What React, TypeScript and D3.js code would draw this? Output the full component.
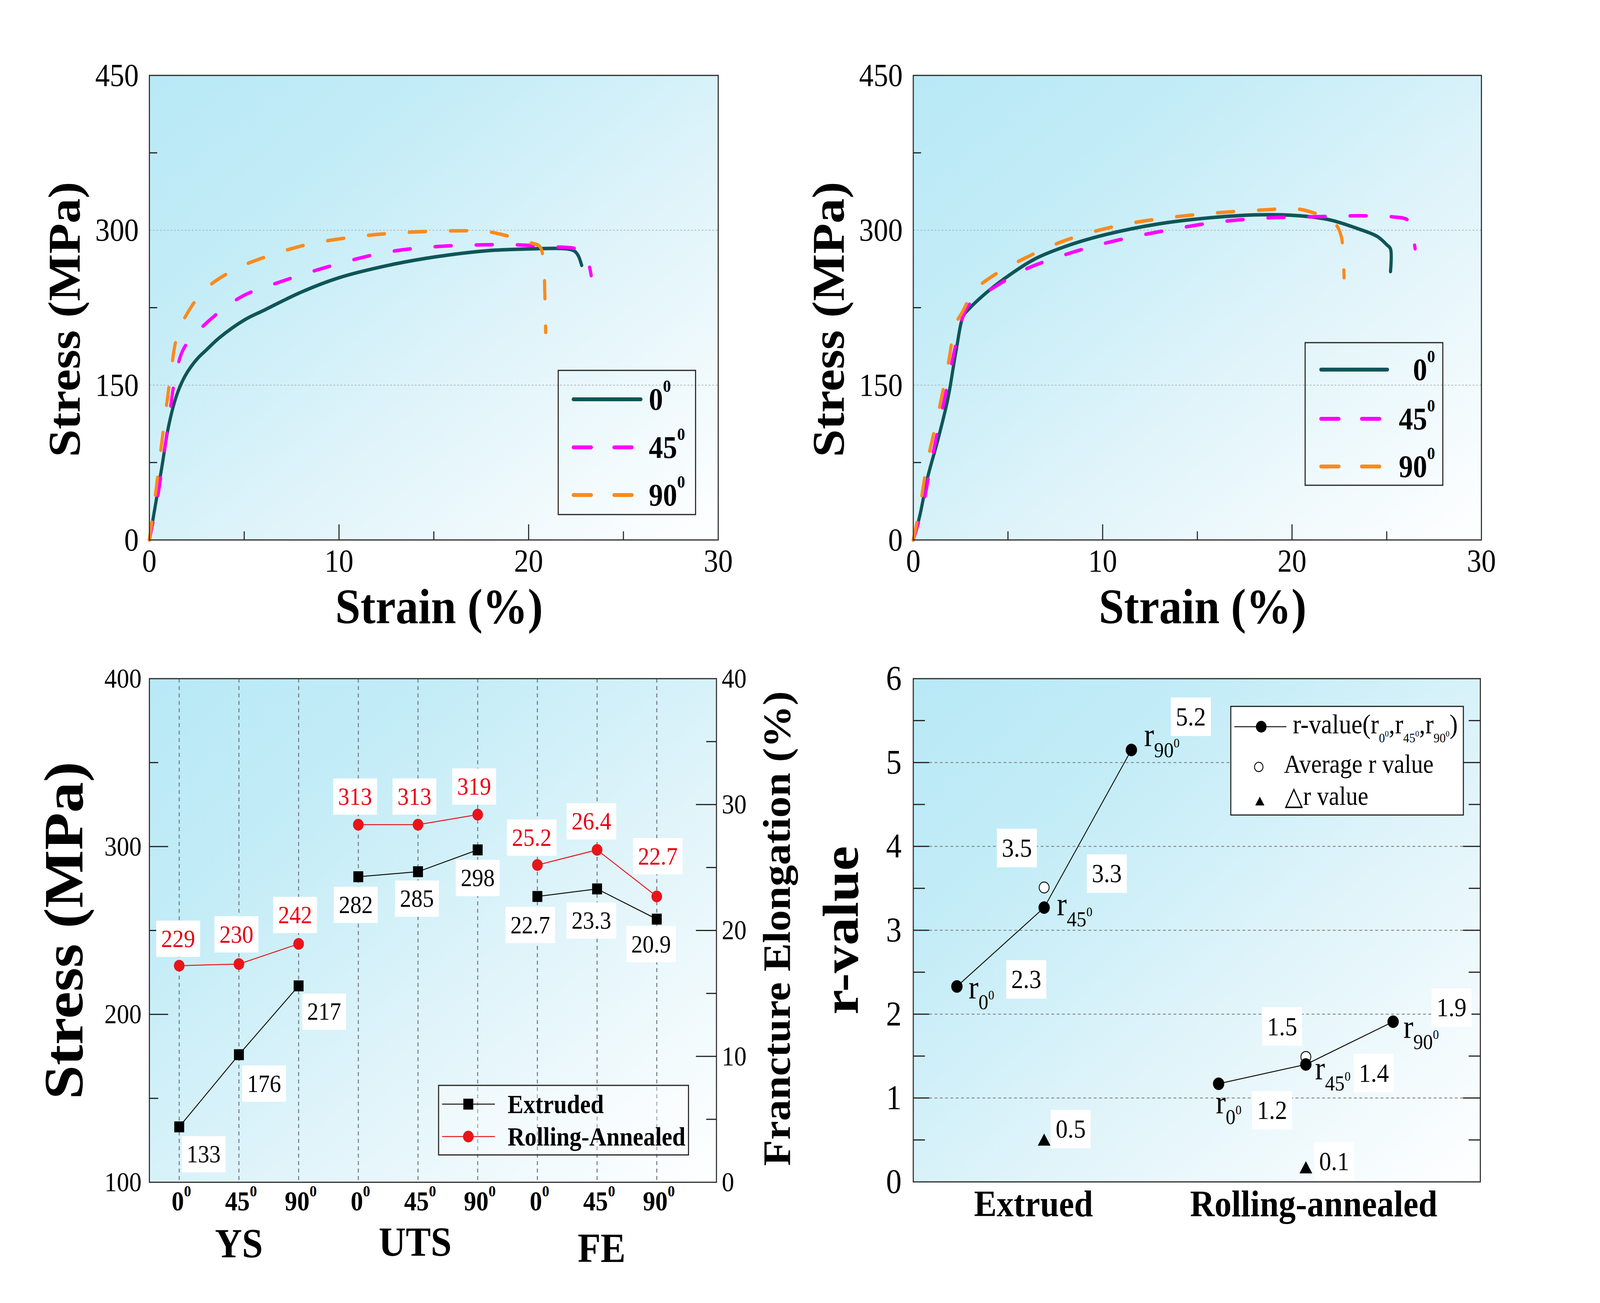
import React from 'react';
import * as d3 from 'd3';

const FONT = "'Liberation Serif', 'Times New Roman', serif";

// ---------------- Top-left: Extruded stress–strain ----------------
const ex0Strain = [0, 0.19, 0.67, 1.0, 1.4, 1.8, 2.2, 2.6, 3.0, 3.7, 5.0, 6.1, 8.0, 10.0, 12.6, 15.0, 17.7, 20.1, 22.0, 22.4, 22.6, 22.8];
const ex0Stress = [0, 20, 72, 109, 138, 156, 168, 177, 184, 196, 213, 223, 240, 254, 266, 274, 280, 282, 282, 280, 276, 266];
const ex45Strain = [0, 0.46, 1.0, 1.4, 1.8, 2.5, 3.7, 5.0, 6.9, 9.3, 12.3, 15.0, 19.0, 21.2, 22.5, 23.0, 23.3];
const ex45Stress = [0, 44, 113, 161, 185, 201, 221, 237, 250, 264, 278, 284, 286, 284, 282, 276, 256];
const ex90Strain = [0, 0.32, 0.67, 1.13, 1.4, 1.8, 2.9, 4.5, 6.1, 8.3, 11.0, 13.6, 16.3, 17.7, 19.0, 20.1, 20.6, 20.8, 20.85, 20.9];
const ex90Stress = [0, 44, 97, 161, 193, 213, 242, 262, 274, 286, 294, 298, 299.5, 299, 294, 288, 284, 266, 242, 201];

// ---------------- Top-right: Rolling-annealed stress–strain ----------------
const ra0Strain = [0, 0.35, 0.75, 1.3, 1.83, 2.24, 2.64, 2.9, 3.7, 4.8, 6.4, 8.3, 10.2, 12.9, 15.6, 18.3, 20.4, 22.0, 23.4, 24.5, 25.0, 25.2, 25.2];
const ra0Stress = [0, 24, 60, 97, 137, 181, 217, 223, 237, 253, 272, 286, 296, 306, 312, 315, 314, 310, 302, 294, 286, 282, 260];
const ra45Strain = [0, 0.5, 1.0, 1.7, 2.24, 2.64, 3.0, 4.3, 5.9, 8.3, 10.7, 13.4, 16.1, 18.8, 20.95, 23.6, 25.3, 26.1, 26.3, 26.5];
const ra45Stress = [0, 32, 80, 141, 189, 217, 229, 245, 262, 278, 290, 300, 308, 312, 313, 314, 313, 310, 302, 282];
const ra90Strain = [0, 0.35, 0.75, 1.3, 1.83, 2.24, 2.6, 3.2, 4.3, 5.9, 8.0, 10.7, 13.4, 16.1, 18.8, 20.1, 20.95, 21.8, 22.3, 22.6, 22.7, 22.75];
const ra90Stress = [0, 32, 76, 121, 169, 209, 221, 241, 257, 273, 290, 304, 312, 317, 320, 321, 318, 312, 306, 294, 274, 254];

const angleNames = ['0', '45', '90'];
const strainTicks = [0, 10, 20, 30];
const stressTicks = [0, 150, 300, 450];

// ---------------- Bottom-left: mechanical properties ----------------
const propGroups = ['YS', 'UTS', 'FE'];
const extrudedYS = [133, 176, 217];
const extrudedUTS = [282, 285, 298];
const extrudedFE = [22.7, 23.3, 20.9];
const rollingYS = [229, 230, 242];
const rollingUTS = [313, 313, 319];
const rollingFE = [25.2, 26.4, 22.7];
const propStressTicks = [100, 200, 300, 400];
const propFETicks = [0, 10, 20, 30, 40];

// ---------------- Bottom-right: r-values ----------------
const rGroups = ['Extrued', 'Rolling-annealed'];
const rExtruded = [2.33, 3.27, 5.15];
const rRolling = [1.17, 1.4, 1.91];
const rAverage = [3.51, 1.49];
const rDelta = [0.48, 0.15];
const rExtrudedLabels = ['2.3', '3.3', '5.2'];
const rRollingLabels = ['1.2', '1.4', '1.9'];
const rAverageLabels = ['3.5', '1.5'];
const rDeltaLabels = ['0.5', '0.1'];
const rTicks = [0, 1, 2, 3, 4, 5, 6];

// ---------------- layout (pixels) ----------------
const TL = { l: 422, r: 2029, t: 193, b: 1382 };
const TR = { l: 2580, r: 4185, t: 193, b: 1382 };
const BL = { l: 422, r: 2024, t: 1737, b: 3026 };
const BR = { l: 2580, r: 4182, t: 1737, b: 3025 };

const TEAL = '#0f5558';
const MAGENTA = '#ff00ff';
const ORANGE = '#fb8a1c';
const RED = '#e8141b';
const LABEL_RED = '#e60012';
const CURVE_DASH = '46 70';
const LEGEND_DASH = '50 65';

function Deg({ x, y, base, size, anchor = 'start', weight = 'bold', fill = '#000', supScale = 0.56, supRaise = 0.33 }: any) {
  return (
    <text x={x} y={y} fontFamily={FONT} fontSize={size} fontWeight={weight} textAnchor={anchor} fill={fill}>
      <tspan>{base}</tspan>
      <tspan fontSize={size * supScale} dy={-size * supRaise}>0</tspan>
    </text>
  );
}

function StressStrainPanel({ box, curves, legend, gid }: any) {
  const x = d3.scaleLinear().domain([0, 30]).range([box.l, box.r]);
  const y = d3.scaleLinear().domain([0, 450]).range([box.b, box.t]);
  const line = d3
    .line<[number, number]>()
    .x((d) => x(d[0]))
    .y((d) => y(d[1]))
    .curve(d3.curveCatmullRom.alpha(0.5));
  const minorY = [75, 225, 375];
  const minorX = [5, 15, 25];
  const majorX = [10, 20];
  return (
    <g>
      <rect x={box.l} y={box.t} width={box.r - box.l} height={box.b - box.t} fill={`url(#${gid})`} />
      {[150, 300].map((v) => (
        <line key={v} x1={box.l} x2={box.r} y1={y(v)} y2={y(v)} stroke="#a9b6b9" strokeWidth={2} strokeDasharray="5 5" />
      ))}
      {minorY.map((v) => (
        <line key={v} x1={box.l} x2={box.l + 22} y1={y(v)} y2={y(v)} stroke="#222" strokeWidth={3} />
      ))}
      {minorX.map((v) => (
        <line key={v} x1={x(v)} x2={x(v)} y1={box.b} y2={box.b - 22} stroke="#222" strokeWidth={3} />
      ))}
      {majorX.map((v) => (
        <line key={v} x1={x(v)} x2={x(v)} y1={box.b} y2={box.b - 40} stroke="#222" strokeWidth={3} />
      ))}
      {curves.map((c: any, i: number) => (
        <path
          key={i}
          d={line(c.strain.map((s: number, j: number) => [s, c.stress[j]]) as [number, number][]) || ''}
          fill="none"
          stroke={c.color}
          strokeWidth={9}
          strokeDasharray={c.dash ? CURVE_DASH : undefined}
          strokeLinecap="round"
          strokeLinejoin="round"
        />
      ))}
      <rect x={box.l} y={box.t} width={box.r - box.l} height={box.b - box.t} fill="none" stroke="#2a2a2a" strokeWidth={3} />
      {stressTicks.map((v) => (
        <text key={v} x={box.l - 30} y={y(v) + 27} fontFamily={FONT} fontSize={82} textAnchor="end">
          {v}
        </text>
      ))}
      {strainTicks.map((v) => (
        <text key={v} x={x(v)} y={box.b + 81} fontFamily={FONT} fontSize={82} textAnchor="middle">
          {v}
        </text>
      ))}
      <text
        transform={`translate(${box.l - 240},${(box.t + box.b) / 2 + 30}) rotate(-90)`}
        fontFamily={FONT}
        fontSize={128}
        fontWeight="bold"
        textAnchor="middle"
        dominantBaseline="central"
      >
        Stress (MPa)
      </text>
      <text x={(box.l + box.r) / 2 + 15} y={box.b + 213} fontFamily={FONT} fontSize={128} fontWeight="bold" textAnchor="middle">
        Strain (%)
      </text>
      {/* legend */}
      <rect x={legend.x0} y={legend.y0} width={legend.x1 - legend.x0} height={legend.y1 - legend.y0} fill="none" stroke="#222" strokeWidth={3} />
      {curves.map((c: any, i: number) => (
        <g key={i}>
          <line
            x1={legend.lx0 + 5}
            x2={legend.lx1 - 5}
            y1={legend.ys[i]}
            y2={legend.ys[i]}
            stroke={c.color}
            strokeWidth={10}
            strokeLinecap="round"
            strokeDasharray={c.dash ? LEGEND_DASH : undefined}
          />
          <Deg x={legend.tx} y={legend.ys[i] + 27} base={angleNames[i]} size={80} anchor={legend.anchor} supScale={0.56} supRaise={0.58} />
        </g>
      ))}
    </g>
  );
}

function LabelBox({ x, y, text, size, fill }: any) {
  const w = text.replace('.', '').length * size * 0.5 + (text.includes('.') ? size * 0.25 : 0);
  const bw = w + 28;
  const bh = size * 1.45;
  return (
    <g>
      <rect x={x - bw / 2} y={y - bh / 2} width={bw} height={bh} fill="#ffffff" />
      <text x={x} y={y + size * 0.33} fontFamily={FONT} fontSize={size} textAnchor="middle" fill={fill}>
        {text}
      </text>
    </g>
  );
}

// label offsets (text centre relative to its marker), pixels
const redLabelOffsets = [[-3, -69], [-7, -76], [-10, -74], [-9, -72], [-10, -72], [-10, -72], [-16, -70], [-16, -73], [3, -103]];
const blackLabelOffsets = [[69, 70], [71, 74], [72, 66], [-7, 72], [-3, 69], [0, 72], [-20, 73], [-16, 81], [-16, 64]];

function PropertiesPanel() {
  const box = BL;
  const x = d3.scaleLinear().domain([0.5, 10]).range([box.l, box.r]);
  const yS = d3.scaleLinear().domain([100, 400]).range([box.b, box.t]);
  const yE = d3.scaleLinear().domain([0, 40]).range([box.b, box.t]);
  const ext = [extrudedYS, extrudedUTS, extrudedFE];
  const rol = [rollingYS, rollingUTS, rollingFE];
  const yFor = (g: number, v: number) => (g === 2 ? yE(v) : yS(v));
  const line = d3.line<[number, number]>().x((d) => d[0]).y((d) => d[1]);
  const pts = (series: number[][]) =>
    series.map((vals, g) => vals.map((v, k) => [x(g * 3 + k + 1), yFor(g, v)] as [number, number]));
  const extPts = pts(ext);
  const rolPts = pts(rol);
  const fmt = (g: number, v: number) => (g === 2 ? v.toFixed(1) : String(v));
  const sq = 28;
  return (
    <g>
      <rect x={box.l} y={box.t} width={box.r - box.l} height={box.b - box.t} fill="url(#bg3)" />
      {d3.range(1, 10).map((i) => (
        <line key={i} x1={x(i)} x2={x(i)} y1={box.t} y2={box.b} stroke="#74808a" strokeWidth={3} strokeDasharray="10 9" />
      ))}
      {[150, 250, 350].map((v) => (
        <line key={v} x1={box.l} x2={box.l + 25} y1={yS(v)} y2={yS(v)} stroke="#222" strokeWidth={3} />
      ))}
      {[200, 300].map((v) => (
        <line key={v} x1={box.l} x2={box.l + 53} y1={yS(v)} y2={yS(v)} stroke="#222" strokeWidth={3} />
      ))}
      {[5, 15, 25, 35].map((v) => (
        <line key={v} x1={box.r} x2={box.r - 29} y1={yE(v)} y2={yE(v)} stroke="#222" strokeWidth={3} />
      ))}
      {[10, 20, 30].map((v) => (
        <line key={v} x1={box.r} x2={box.r - 58} y1={yE(v)} y2={yE(v)} stroke="#222" strokeWidth={3} />
      ))}
      {extPts.map((p, g) => (
        <path key={'el' + g} d={line(p) || ''} fill="none" stroke="#111" strokeWidth={2.5} />
      ))}
      {rolPts.map((p, g) => (
        <path key={'rl' + g} d={line(p) || ''} fill="none" stroke={RED} strokeWidth={2.5} />
      ))}
      {extPts.flat().map((p, i) => (
        <rect key={'es' + i} x={p[0] - sq / 2} y={p[1] - sq / 2} width={sq} height={sq} fill="#000" />
      ))}
      {rolPts.flat().map((p, i) => (
        <circle key={'rc' + i} cx={p[0]} cy={p[1]} r={15} fill={RED} />
      ))}
      {rol.map((vals, g) =>
        vals.map((v, k) => {
          const i = g * 3 + k;
          const p = rolPts[g][k];
          return <LabelBox key={'rlab' + i} x={p[0] + redLabelOffsets[i][0]} y={p[1] + redLabelOffsets[i][1]} text={fmt(g, v)} size={64} fill={LABEL_RED} />;
        })
      )}
      {ext.map((vals, g) =>
        vals.map((v, k) => {
          const i = g * 3 + k;
          const p = extPts[g][k];
          return <LabelBox key={'elab' + i} x={p[0] + blackLabelOffsets[i][0]} y={p[1] + blackLabelOffsets[i][1]} text={fmt(g, v)} size={64} fill="#000" />;
        })
      )}
      <rect x={box.l} y={box.t} width={box.r - box.l} height={box.b - box.t} fill="none" stroke="#2a2a2a" strokeWidth={3} />
      {propStressTicks.map((v) => (
        <text key={v} x={box.l - 22} y={yS(v) + 23} fontFamily={FONT} fontSize={70} textAnchor="end">
          {v}
        </text>
      ))}
      {propFETicks.map((v) => (
        <text key={v} x={box.r + 15} y={yE(v) + 23} fontFamily={FONT} fontSize={70} textAnchor="start">
          {v}
        </text>
      ))}
      {d3.range(9).map((i) => (
        <Deg key={i} x={x(i + 1) + 6} y={box.b + 72} base={angleNames[i % 3]} size={70} anchor="middle" supScale={0.58} supRaise={0.52} />
      ))}
      {propGroups.map((gname, g) => (
        <text
          key={gname}
          x={x(g * 3 + 2) + [0, -8, 13][g]}
          y={box.b + [192, 188, 204][g]}
          fontFamily={FONT}
          fontSize={106}
          fontWeight="bold"
          textAnchor="middle"
        >
          {gname}
        </text>
      ))}
      <text
        transform={`translate(${box.l - 242},${(box.t + box.b) / 2}) rotate(-90)`}
        fontFamily={FONT}
        fontSize={157}
        fontWeight="bold"
        textAnchor="middle"
        dominantBaseline="central"
      >
        Stress (MPa)
      </text>
      <text
        transform={`translate(${box.r + 170},${(box.t + box.b) / 2 - 5}) rotate(-90)`}
        fontFamily={FONT}
        fontSize={109}
        fontWeight="bold"
        textAnchor="middle"
        dominantBaseline="central"
      >
        Francture Elongation (%)
      </text>
      {/* legend */}
      <rect x={1239} y={2778} width={706} height={178} fill="#ffffff" fillOpacity={0.35} stroke="#222" strokeWidth={3} />
      <line x1={1249} x2={1398} y1={2826} y2={2826} stroke="#111" strokeWidth={2.5} />
      <rect x={1323 - sq / 2} y={2826 - sq / 2} width={sq} height={sq} fill="#000" />
      <line x1={1249} x2={1398} y1={2909} y2={2909} stroke={RED} strokeWidth={2.5} />
      <circle cx={1323} cy={2909} r={15} fill={RED} />
      <text x={1434} y={2849} fontFamily={FONT} fontSize={67} fontWeight="bold">Extruded</text>
      <text x={1434} y={2932} fontFamily={FONT} fontSize={67} fontWeight="bold">Rolling-Annealed</text>
    </g>
  );
}

// r-plot label offsets
const rValueLabelOffsets = [[[196, -18], [177, -87], [168, -85]], [[151, 68], [192, 22], [165, -36]]];
const rAvgLabelOffsets = [[-77, -101], [-67, -78]];
const rDeltaLabelOffsets = [[75, -32], [80, -20]];
const rSubOffsets = [[[33, 30], [36, 19], [36, -10]], [[-8, 75], [26, 38], [29, 41]]];

function RSub({ x, y, sub, size = 84 }: any) {
  return (
    <text x={x} y={y} fontFamily={FONT} fontSize={size}>
      <tspan>r</tspan>
      <tspan fontSize={size * 0.66} dy={size * 0.34}>{sub}</tspan>
      <tspan fontSize={size * 0.4} dy={-size * 0.3}>0</tspan>
    </text>
  );
}

function RValuePanel() {
  const box = BR;
  const x = d3.scaleLinear().domain([0, 6.5]).range([box.l, box.r]);
  const y = d3.scaleLinear().domain([0, 6]).range([box.b, box.t]);
  const series = [rExtruded, rRolling];
  const labels = [rExtrudedLabels, rRollingLabels];
  const line = d3.line<[number, number]>().x((d) => d[0]).y((d) => d[1]);
  const tri = d3.symbol(d3.symbolTriangle, 560)() || '';
  const triSmall = d3.symbol(d3.symbolTriangle, 290)() || '';
  return (
    <g>
      <rect x={box.l} y={box.t} width={box.r - box.l} height={box.b - box.t} fill="url(#bg4)" />
      {[1, 2, 3, 4, 5].map((v) => (
        <line key={v} x1={box.l} x2={box.r} y1={y(v)} y2={y(v)} stroke="#8c8c8c" strokeWidth={2.5} strokeDasharray="8 7" />
      ))}
      {d3.range(0.5, 6, 1).map((v) => (
        <g key={v}>
          <line x1={box.l} x2={box.l + 33} y1={y(v)} y2={y(v)} stroke="#222" strokeWidth={3} />
          <line x1={box.r} x2={box.r - 33} y1={y(v)} y2={y(v)} stroke="#222" strokeWidth={3} />
        </g>
      ))}
      {[1, 2, 3, 4, 5].map((v) => (
        <g key={v}>
          <line x1={box.l} x2={box.l + 45} y1={y(v)} y2={y(v)} stroke="#222" strokeWidth={3} />
          <line x1={box.r} x2={box.r - 49} y1={y(v)} y2={y(v)} stroke="#222" strokeWidth={3} />
        </g>
      ))}
      {series.map((vals, g) => {
        const p = vals.map((v, k) => [x(g * 3 + k + 0.5), y(v)] as [number, number]);
        return <path key={'l' + g} d={line(p) || ''} fill="none" stroke="#111" strokeWidth={2.5} />;
      })}
      {rAverage.map((v, g) => (
        <circle key={'a' + g} cx={x(g * 3 + 1.5)} cy={y(v)} r={14} fill="#fff" stroke="#111" strokeWidth={2.5} />
      ))}
      {series.map((vals, g) =>
        vals.map((v, k) => <circle key={'p' + g + k} cx={x(g * 3 + k + 0.5)} cy={y(v)} r={16} fill="#000" />)
      )}
      {rDelta.map((v, g) => (
        <path key={'d' + g} d={tri} transform={`translate(${x(g * 3 + 1.5)},${y(v)})`} fill="#000" />
      ))}
      {series.map((vals, g) =>
        vals.map((v, k) => {
          const px = x(g * 3 + k + 0.5);
          const py = y(v);
          const o = rValueLabelOffsets[g][k];
          const s = rSubOffsets[g][k];
          return (
            <g key={'lab' + g + k}>
              <LabelBox x={px + o[0]} y={py + o[1]} text={labels[g][k]} size={68} fill="#000" />
              <RSub x={px + s[0]} y={py + s[1]} sub={angleNames[k]} />
            </g>
          );
        })
      )}
      {rAverage.map((v, g) => (
        <LabelBox key={'al' + g} x={x(g * 3 + 1.5) + rAvgLabelOffsets[g][0]} y={y(v) + rAvgLabelOffsets[g][1]} text={rAverageLabels[g]} size={68} fill="#000" />
      ))}
      {rDelta.map((v, g) => (
        <LabelBox key={'dl' + g} x={x(g * 3 + 1.5) + rDeltaLabelOffsets[g][0]} y={y(v) + rDeltaLabelOffsets[g][1]} text={rDeltaLabels[g]} size={68} fill="#000" />
      ))}
      <rect x={box.l} y={box.t} width={box.r - box.l} height={box.b - box.t} fill="none" stroke="#2a2a2a" strokeWidth={3} />
      {rTicks.map((v) => (
        <text key={v} x={box.l - 33} y={y(v) + 28} fontFamily={FONT} fontSize={88} textAnchor="end">
          {v}
        </text>
      ))}
      {rGroups.map((gname, g) => (
        <text key={gname} x={x(g * 3 + 1.5) + [-30, 22][g]} y={box.b + 88} fontFamily={FONT} fontSize={96} fontWeight="bold" textAnchor="middle">
          {gname}
        </text>
      ))}
      <text
        transform={`translate(${box.l - 205},${(box.t + box.b) / 2}) rotate(-90)`}
        fontFamily={FONT}
        fontSize={143}
        fontWeight="bold"
        textAnchor="middle"
        dominantBaseline="central"
      >
        r-value
      </text>
      {/* legend */}
      <rect x={3477} y={1808} width={657} height={278} fill="#ffffff" stroke="#222" strokeWidth={3} />
      <line x1={3487} x2={3634} y1={1860} y2={1860} stroke="#111" strokeWidth={2.5} />
      <circle cx={3563} cy={1860} r={15} fill="#000" />
      <text x={3652} y={1877} fontFamily={FONT} fontSize={70}>
        <tspan>r-value(r</tspan>
        <tspan fontSize={34} dy={23}>0</tspan>
        <tspan fontSize={22} dy={-15}>0</tspan>
        <tspan dy={-8}>,r</tspan>
        <tspan fontSize={34} dy={23}>45</tspan>
        <tspan fontSize={22} dy={-15}>0</tspan>
        <tspan dy={-8}>,r</tspan>
        <tspan fontSize={34} dy={23}>90</tspan>
        <tspan fontSize={22} dy={-15}>0</tspan>
        <tspan dy={-8}>)</tspan>
      </text>
      <circle cx={3556} cy={1963} r={12} fill="#fff" stroke="#111" strokeWidth={2.5} />
      <text x={3627} y={1978} fontFamily={FONT} fontSize={67}>Average r value</text>
      <path d={triSmall} transform="translate(3559,2054)" fill="#000" />
      <text x={3630} y={2060} fontFamily={FONT} fontSize={67}>△r value</text>
    </g>
  );
}

function Grad({ id }: { id: string }) {
  return (
    <linearGradient id={id} x1="0" y1="0" x2="1" y2="1">
      <stop offset="0" stopColor="#b8e9f6" />
      <stop offset="0.25" stopColor="#c2ecf7" />
      <stop offset="0.6" stopColor="#e0f4fa" />
      <stop offset="1" stopColor="#ffffff" />
    </linearGradient>
  );
}

export default function App() {
  const leftCurves = [
    { strain: ex0Strain, stress: ex0Stress, color: TEAL, dash: false },
    { strain: ex45Strain, stress: ex45Stress, color: MAGENTA, dash: true },
    { strain: ex90Strain, stress: ex90Stress, color: ORANGE, dash: true },
  ];
  const rightCurves = [
    { strain: ra0Strain, stress: ra0Stress, color: TEAL, dash: false },
    { strain: ra45Strain, stress: ra45Stress, color: MAGENTA, dash: true },
    { strain: ra90Strain, stress: ra90Stress, color: ORANGE, dash: true },
  ];
  const legendL = { x0: 1577, x1: 1965, y0: 948, y1: 1317, lx0: 1615, lx1: 1815, ys: [1022, 1145, 1267], tx: 1833, anchor: 'start' };
  const legendR = { x0: 3687, x1: 4076, y0: 877, y1: 1242, lx0: 3727, lx1: 3924, ys: [946, 1072, 1194], tx: 4054, anchor: 'end' };
  return (
    <svg
      viewBox="0 0 4520 3335"
      preserveAspectRatio="none"
      style={{ position: 'fixed', left: 0, top: 0, width: '100vw', height: '100vh', display: 'block', background: '#fff' }}
      xmlns="http://www.w3.org/2000/svg"
    >
      <defs>
        <Grad id="bg1" />
        <Grad id="bg2" />
        <Grad id="bg3" />
        <Grad id="bg4" />
      </defs>
      <rect x={0} y={0} width={4520} height={3335} fill="#fff" />
      <StressStrainPanel box={TL} curves={leftCurves} legend={legendL} gid="bg1" />
      <StressStrainPanel box={TR} curves={rightCurves} legend={legendR} gid="bg2" />
      <PropertiesPanel />
      <RValuePanel />
    </svg>
  );
}
